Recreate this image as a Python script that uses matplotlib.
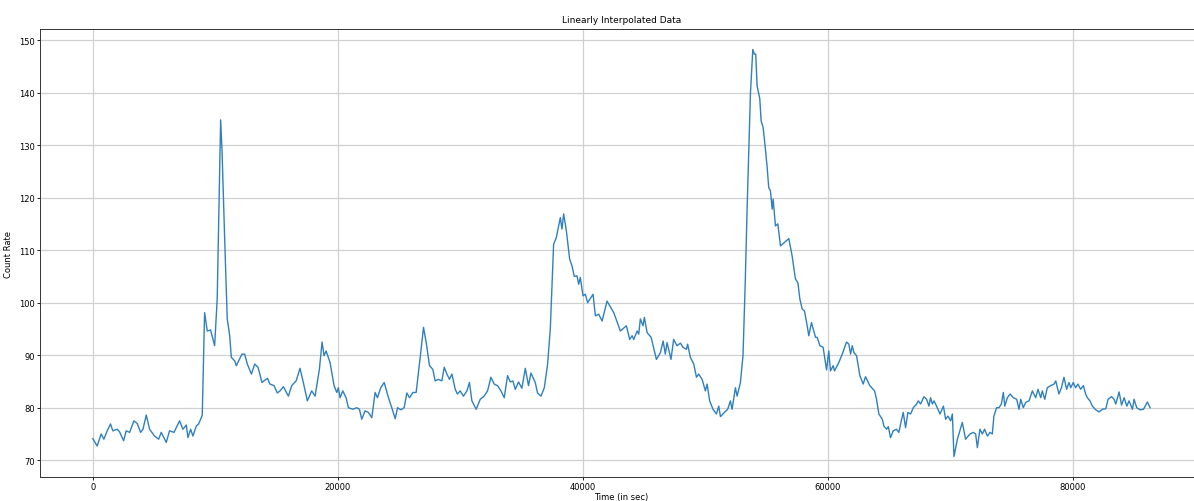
import matplotlib
matplotlib.use("Agg")
import matplotlib.pyplot as plt

# Count rate over one day, sampled and linearly interpolated
time_s = [
    0, 350, 680, 900, 1170, 1440, 1630, 1990, 2180, 2510, 2720, 3000, 3350, 3620,
    3900, 4090, 4360, 4630, 5040, 5370, 5580, 5990, 6260, 6620, 7080, 7350, 7630,
    7760, 7980, 8170, 8440, 8630, 8850, 8930, 9120, 9340, 9610, 9940, 10150, 10430,
    10540, 10760, 10970, 11170, 11300, 11580, 11710, 11900, 12170, 12390, 12610,
    12940, 13210, 13480, 13810, 14250, 14460, 14790, 15060, 15280, 15550, 15960,
    16230, 16590, 16910, 17180, 17510, 17860, 18140, 18490, 18710, 18870, 19040,
    19360, 19690, 19910, 20040, 20180, 20400, 20670, 20860, 21220, 21540, 21760,
    21950, 22220, 22490, 22770, 23040, 23230, 23500, 23780, 24130, 24400, 24680,
    24870, 25140, 25410, 25630, 25850, 26120, 26390, 26720, 26990, 27210, 27480,
    27750, 27940, 28210, 28490, 28680, 28900, 29110, 29310, 29580, 29760, 29980,
    30250, 30530, 30740, 30940, 31290, 31620, 31940, 32220, 32490, 32760, 33030,
    33310, 33580, 33850, 34070, 34290, 34480, 34750, 35020, 35300, 35560, 35760,
    36110, 36300, 36580, 36850, 37120, 37340, 37610, 37830, 38160, 38290, 38430,
    38650, 38920, 39110, 39300, 39520, 39660, 39790, 40010, 40200, 40390, 40670,
    40830, 41020, 41290, 41570, 41970, 42520, 43060, 43550, 43820, 44020, 44150,
    44430, 44560, 44690, 44910, 45020, 45240, 45570, 46000, 46330, 46550, 46730,
    46870, 47190, 47410, 47680, 47960, 48170, 48450, 48550, 48770, 49050, 49270,
    49450, 49730, 50000, 50140, 50350, 50620, 50900, 51090, 51230, 51550, 51820,
    52040, 52180, 52450, 52590, 52860, 53070, 53260, 53410, 53680, 53870, 54000,
    54110, 54220, 54440, 54550, 54710, 54900, 55040, 55170, 55310, 55450, 55530,
    55720, 55910, 56130, 56810, 57080, 57350, 57550, 57710, 57900, 58090, 58310,
    58440, 58660, 58850, 58990, 59130, 59340, 59610, 59890, 60070, 60210, 60430,
    60540, 60890, 61170, 61520, 61710, 61850, 61990, 62120, 62340, 62610, 62880,
    63070, 63420, 63810, 63970, 64160, 64440, 64570, 64790, 64930, 65110, 65330,
    65600, 65790, 65990, 66150, 66340, 66530, 66750, 66970, 67240, 67380, 67570,
    67840, 68060, 68250, 68380, 68530, 68660, 68870, 69150, 69430, 69610, 69800,
    70020, 70160, 70290, 70570, 70970, 71240, 71600, 71870, 72060, 72200, 72410,
    72610, 72790, 73020, 73230, 73420, 73550, 73770, 73970, 74160, 74320, 74440,
    74650, 74870, 75140, 75410, 75600, 75740, 75950, 76140, 76420, 76690, 76960,
    77150, 77370, 77500, 77700, 77910, 78190, 78460, 78600, 78860, 79060, 79270,
    79490, 79680, 79820, 80030, 80220, 80410, 80630, 80850, 81040, 81180, 81390,
    81590, 81860, 82130, 82410, 82680, 82870, 83150, 83360, 83500, 83770, 83970,
    84180, 84400, 84580, 84860, 84990, 85210, 85480, 85760, 85940, 86080, 86300,
]
count_rate = [
    74.1, 72.7, 75.0, 74.0, 75.6, 76.9, 75.6, 75.9, 75.4, 73.7, 75.6, 75.3, 77.5, 77.0,
    75.3, 75.9, 78.6, 75.9, 74.6, 74.0, 75.3, 73.4, 75.6, 75.3, 77.5, 75.9, 76.7,
    74.3, 75.9, 74.6, 76.5, 76.9, 78.1, 78.6, 98.1, 94.6, 94.8, 91.8, 100.7, 134.8,
    129.2, 112.1, 96.9, 93.7, 89.6, 88.9, 88.0, 88.9, 90.2, 90.2, 88.3,
    86.4, 88.3, 87.7, 84.8, 85.6, 84.5, 84.2, 82.8, 83.2, 84.0, 82.2,
    84.2, 85.1, 87.5, 84.8, 81.3, 83.2, 82.2, 87.3, 92.5, 89.9, 90.8,
    88.6, 84.2, 82.9, 83.8, 81.9, 83.2, 81.9, 80.0, 79.7, 80.0, 79.7,
    77.8, 79.4, 79.1, 78.1, 82.9, 81.9, 83.8, 84.8, 81.9, 80.0, 77.9,
    80.0, 79.6, 80.0, 82.8, 81.9, 82.9, 82.9, 89.6, 95.3, 92.4, 88.0,
    87.3, 85.1, 85.4, 85.1, 87.7, 86.4, 85.4, 86.4, 83.5, 82.6, 83.2,
    82.2, 83.2, 84.8, 81.3, 79.7, 81.6, 82.2, 83.2, 85.8, 84.5, 84.2,
    83.2, 81.9, 86.1, 84.9, 85.1, 83.5, 84.9, 83.7, 87.5, 84.2, 86.6,
    84.8, 82.8, 82.2, 83.8, 88.3, 95.0, 111.1, 112.4, 116.2, 114.0, 116.9,
    113.7, 108.3, 107.0, 105.0, 105.1, 103.5, 104.8, 101.3, 101.6, 100.0, 101.0,
    101.6, 97.5, 97.8, 96.5, 100.3, 98.1, 94.6, 95.6, 93.0, 93.7, 93.0,
    94.6, 94.0, 96.9, 95.6, 97.2, 94.3, 93.4, 89.2, 90.5, 92.7, 90.2,
    92.4, 89.2, 93.0, 91.8, 92.3, 91.5, 91.1, 92.1, 89.6, 88.3, 85.8,
    86.4, 85.4, 83.2, 84.5, 81.3, 79.7, 78.8, 80.3, 78.3, 79.1, 79.7,
    81.3, 79.7, 83.8, 82.2, 84.8, 89.9, 104.5, 118.4, 140.0, 148.2, 147.3,
    147.3, 141.3, 138.8, 134.6, 133.4, 129.2, 125.8, 121.9, 121.3, 117.8, 119.7,
    114.6, 115.0, 110.8, 112.2, 108.9, 104.5, 103.8, 100.7, 98.8, 98.4, 95.6,
    93.7, 96.2, 94.6, 93.4, 93.4, 91.8, 91.5, 87.2, 90.8, 87.0, 88.0,
    87.0, 88.6, 90.2, 92.5, 92.1, 90.2, 91.8, 90.5, 89.9, 86.1, 84.5,
    85.9, 84.2, 83.2, 81.6, 78.8, 77.8, 76.5, 75.9, 76.4, 74.3, 75.6,
    75.9, 75.3, 77.5, 79.1, 76.2, 79.1, 78.8, 80.0, 80.7, 81.3, 80.7,
    82.1, 81.6, 80.3, 81.9, 80.7, 81.3, 80.3, 78.8, 80.3, 77.8, 78.4,
    77.5, 78.8, 70.7, 74.0, 77.2, 74.0, 75.0, 75.3, 75.0, 72.4, 75.9,
    75.0, 75.9, 74.6, 75.3, 75.0, 78.4, 80.0, 80.0, 80.7, 82.9, 80.3,
    81.9, 82.6, 81.9, 81.6, 79.7, 81.6, 80.0, 81.0, 81.3, 83.2, 81.9,
    83.5, 81.9, 83.2, 81.6, 83.8, 84.2, 84.5, 85.1, 82.6, 83.8, 85.8,
    83.5, 84.8, 83.8, 84.8, 83.8, 84.5, 83.5, 84.2, 82.6, 81.9, 81.3,
    80.3, 79.6, 79.2, 79.7, 79.8, 81.6, 82.1, 81.6, 80.7, 83.0, 80.5,
    81.9, 80.3, 81.3, 79.7, 81.6, 80.0, 79.6, 79.7, 80.5, 81.1, 80.0,
]

plt.rcParams['font.size'] = 6

fig = plt.figure(figsize=(11.94, 5.02), dpi=100)
ax = fig.add_axes([0.0335, 0.048, 0.974, 0.892])

ax.plot(time_s, count_rate, color='#2f80bd', linewidth=1.0)
ax.set_title('Linearly Interpolated Data', fontsize=6.5, pad=5)
ax.set_xlabel('Time (in sec)', labelpad=0.5)
ax.set_ylabel('Count Rate', labelpad=4)
ax.grid(True, color='#d0d0d0', linewidth=0.9)
ax.tick_params(length=2.2, width=0.6, pad=1.5)
for s in ax.spines.values():
    s.set_linewidth(0.7)
    s.set_color('#333333')

fig.savefig('out.png', dpi=100)
